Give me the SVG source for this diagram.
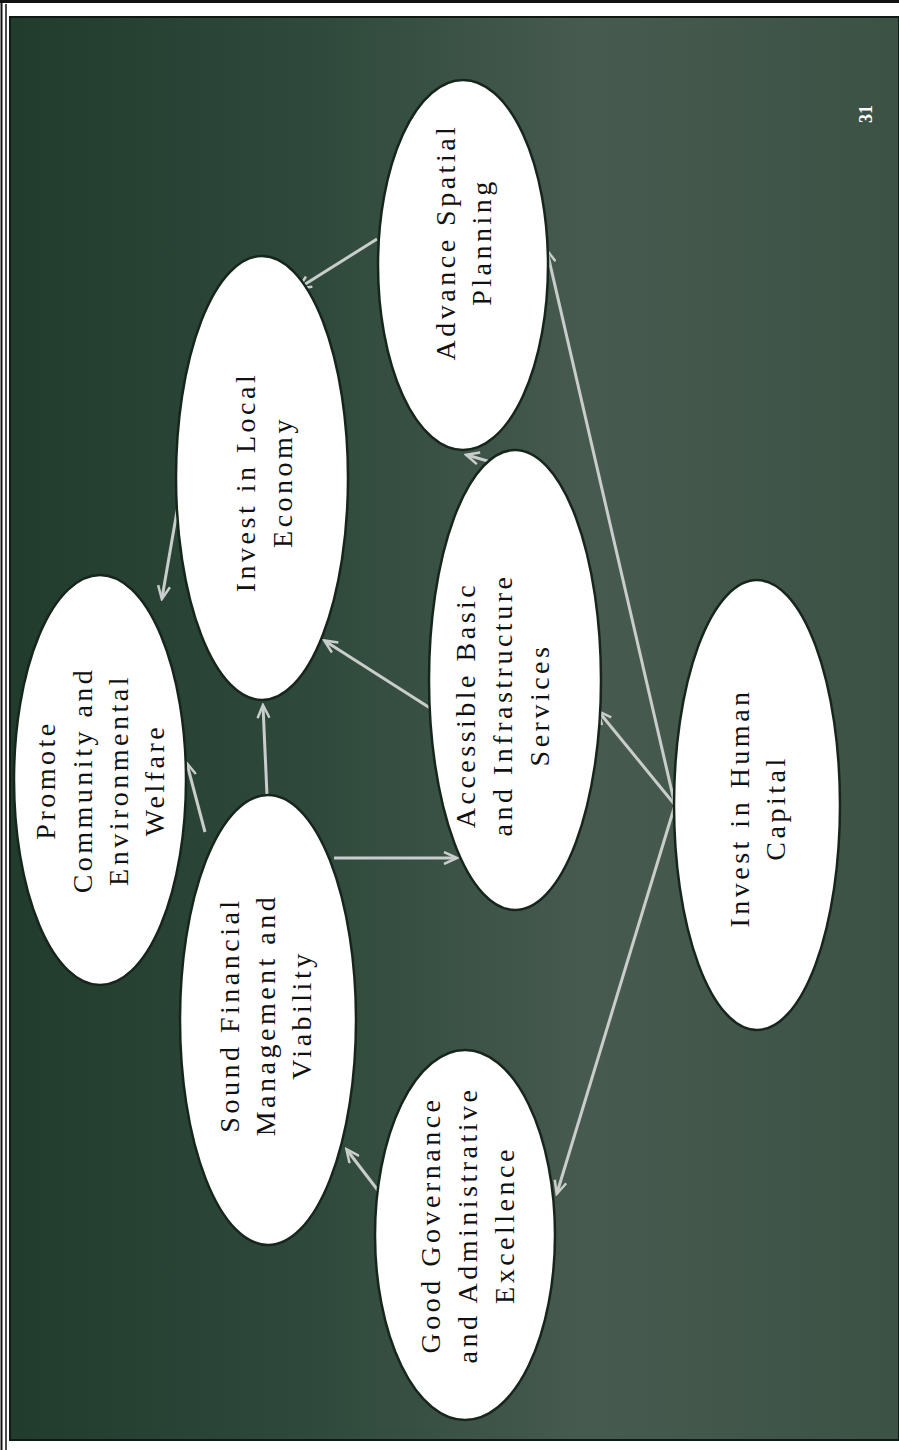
<svg xmlns="http://www.w3.org/2000/svg" width="899" height="1450" viewBox="0 0 899 1450">
<defs>
<linearGradient id="bg" x1="0" y1="0" x2="1" y2="0">
<stop offset="0" stop-color="#213b2d"/>
<stop offset="0.35" stop-color="#2f4a3c"/>
<stop offset="0.65" stop-color="#475a4f"/>
<stop offset="1" stop-color="#3c5245"/>
</linearGradient>
<marker id="ah" markerUnits="userSpaceOnUse" markerWidth="16" markerHeight="14" refX="13" refY="7" orient="auto">
<path d="M1,1 L14,7 L1,13" fill="none" stroke="#c9cdcb" stroke-width="2.5"/>
</marker>
<style>
.node ellipse{fill:#ffffff;stroke:#17261d;stroke-width:2.5}
.node text{font-family:"Liberation Serif","Times New Roman",serif;font-size:28px;letter-spacing:3.5px;fill:#111;text-anchor:middle;dominant-baseline:central}
.conn line{stroke:#c9cdcb;stroke-width:3;marker-end:url(#ah)}
</style>
</defs>
<rect x="0" y="0" width="899" height="1450" fill="#ffffff"/>
<line x1="1.5" y1="0" x2="1.5" y2="1450" stroke="#111" stroke-width="2"/>
<line x1="6" y1="4" x2="6" y2="1450" stroke="#111" stroke-width="1.5"/>
<line x1="0" y1="1.5" x2="899" y2="1.5" stroke="#111" stroke-width="3"/>
<rect x="10" y="17" width="889" height="1423" fill="url(#bg)" stroke="#0e1a13" stroke-width="2"/>
<text x="866" y="114" transform="rotate(-90 866 114)" font-family="Liberation Serif, serif" font-size="18" font-weight="bold" fill="#ffffff" text-anchor="middle" dominant-baseline="central">31</text>

<g class="conn">
<line x1="377" y1="239" x2="299" y2="288"/>
<line x1="181" y1="488" x2="162" y2="598"/>
<line x1="267" y1="795" x2="263" y2="706"/>
<line x1="205" y1="832" x2="187" y2="764"/>
<line x1="334" y1="858" x2="456" y2="858"/>
<line x1="430" y1="708" x2="325" y2="641"/>
<line x1="546" y1="478" x2="467" y2="455"/>
<line x1="675" y1="805" x2="599" y2="712"/>
<line x1="675" y1="805" x2="547" y2="251"/>
<line x1="675" y1="805" x2="557" y2="1193"/>
<line x1="383" y1="1197" x2="347" y2="1150"/>
</g>

<g id="promote" class="node">
<ellipse cx="100" cy="780" rx="86" ry="205"/>
<g transform="translate(100 780) rotate(-90)">
<text x="0" y="-55">Promote</text>
<text x="0" y="-18">Community and</text>
<text x="0" y="18">Environmental</text>
<text x="0" y="54">Welfare</text>
</g>
</g>

<g id="local-economy" class="node">
<ellipse cx="262" cy="478" rx="86" ry="222"/>
<g transform="translate(263 482) rotate(-90)">
<text x="0" y="-18">Invest in Local</text>
<text x="0" y="19">Economy</text>
</g>
</g>

<g id="spatial" class="node">
<ellipse cx="463" cy="265" rx="85" ry="185"/>
<g transform="translate(463 242) rotate(-90)">
<text x="0" y="-18">Advance Spatial</text>
<text x="0" y="18">Planning</text>
</g>
</g>

<g id="financial" class="node">
<ellipse cx="268" cy="1020" rx="88" ry="225"/>
<g transform="translate(265 1015) rotate(-90)">
<text x="0" y="-36">Sound Financial</text>
<text x="0" y="0">Management and</text>
<text x="0" y="36">Viability</text>
</g>
</g>

<g id="basic-services" class="node">
<ellipse cx="515" cy="680" rx="86" ry="230"/>
<g transform="translate(502 705) rotate(-90)">
<text x="0" y="-37">Accessible Basic</text>
<text x="0" y="0">and Infrastructure</text>
<text x="0" y="37">Services</text>
</g>
</g>

<g id="governance" class="node">
<ellipse cx="465" cy="1235" rx="90" ry="185"/>
<g transform="translate(467 1225) rotate(-90)">
<text x="0" y="-37">Good Governance</text>
<text x="0" y="0">and Administrative</text>
<text x="0" y="37">Excellence</text>
</g>
</g>

<g id="human-capital" class="node">
<ellipse cx="757" cy="805" rx="83" ry="225"/>
<g transform="translate(757 808) rotate(-90)">
<text x="0" y="-18">Invest in Human</text>
<text x="0" y="18">Capital</text>
</g>
</g>
</svg>
